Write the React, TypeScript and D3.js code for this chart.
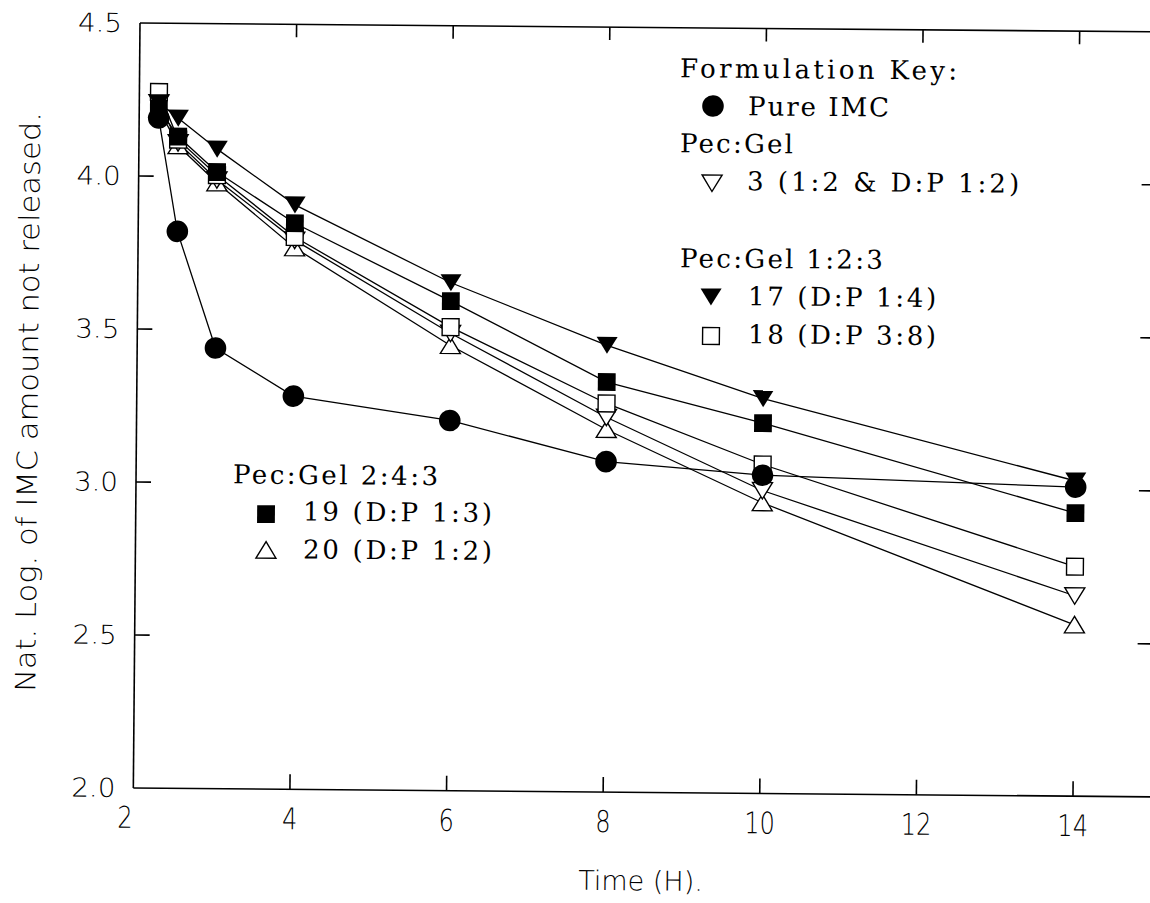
import React from "react";
import * as d3 from "d3";

// ---- data ----
const hours = [2.25, 2.5, 3, 4, 6, 8, 10, 14];
const pureIMC = [4.19, 3.82, 3.44, 3.285, 3.21, 3.08, 3.04, 3.01];
const f17 = [4.24, 4.19, 4.09, 3.91, 3.66, 3.46, 3.29, 3.03];
const f19 = [4.22, 4.13, 4.015, 3.85, 3.6, 3.34, 3.21, 2.925];
const f18 = [4.275, 4.12, 4.005, 3.805, 3.515, 3.27, 3.075, 2.75];
const f3 = [4.24, 4.11, 3.99, 3.795, 3.495, 3.225, 2.99, 2.655];
const f20 = [4.22, 4.1, 3.98, 3.77, 3.455, 3.185, 2.95, 2.56];

const xTicks = [2, 4, 6, 8, 10, 12, 14];
const yTicks = [2.0, 2.5, 3.0, 3.5, 4.0, 4.5];
const xTitle = "Time (H).";
const yTitle = "Nat. Log. of IMC amount not released.";

type Marker = "circle" | "square" | "squareOpen" | "triDown" | "triDownOpen" | "triUpOpen";

// drawing order: first drawn at bottom
const series: { name: string; values: number[]; marker: Marker }[] = [
  { name: "20", values: f20, marker: "triUpOpen" },
  { name: "3", values: f3, marker: "triDownOpen" },
  { name: "18", values: f18, marker: "squareOpen" },
  { name: "19", values: f19, marker: "square" },
  { name: "17", values: f17, marker: "triDown" },
  { name: "Pure IMC", values: pureIMC, marker: "circle" },
];

// ---- layout ----
const W = 1150;
const H = 903;
const L = 140;
const T = 23;
const B = 788;
const R = 1158;

const x = d3.scaleLinear().domain([2, 15]).range([L, R]);
const y = d3.scaleLinear().domain([2.0, 4.5]).range([B, T]);

const sansFont = "'DejaVu Sans', 'Open Sans', sans-serif";
const serifFont = "'DejaVu Serif', 'Liberation Serif', serif";

function markerEl(m: Marker, cx: number, cy: number, key?: string | number) {
  const sw = 1.4;
  switch (m) {
    case "circle":
      return <circle key={key} cx={cx} cy={cy} r={10.8} fill="#000" />;
    case "square":
      return <rect key={key} x={cx - 8.9} y={cy - 8.9} width={17.8} height={17.8} fill="#000" />;
    case "squareOpen":
      return (
        <rect key={key} x={cx - 8.4} y={cy - 8.4} width={16.8} height={16.8} fill="#fff" stroke="#000" strokeWidth={sw} />
      );
    case "triDown":
      return (
        <path key={key} d={`M${cx - 10.5},${cy - 8.5}L${cx + 10.5},${cy - 8.5}L${cx},${cy + 8.5}Z`} fill="#000" />
      );
    case "triDownOpen":
      return (
        <path
          key={key}
          d={`M${cx - 10},${cy - 8}L${cx + 10},${cy - 8}L${cx},${cy + 8.5}Z`}
          fill="#fff"
          stroke="#000"
          strokeWidth={sw}
          strokeLinejoin="miter"
        />
      );
    case "triUpOpen":
      return (
        <path
          key={key}
          d={`M${cx - 10},${cy + 8}L${cx + 10},${cy + 8}L${cx},${cy - 8.5}Z`}
          fill="#fff"
          stroke="#000"
          strokeWidth={sw}
          strokeLinejoin="miter"
        />
      );
  }
}

const line = d3
  .line<[number, number]>()
  .x((d) => x(d[0]))
  .y((d) => y(d[1]));

type LegendRow =
  | { kind: "head"; text: string; x: number; y: number; len: number }
  | { kind: "item"; text: string; x: number; y: number; len: number; marker: Marker; mx: number; my: number };

const legendRows: LegendRow[] = [
  { kind: "head", text: "Formulation Key:", x: 680.5, y: 72.5, len: 277 },
  { kind: "item", text: "Pure IMC", x: 748.8, y: 110, len: 141, marker: "circle", mx: 713.7, my: 101 },
  { kind: "head", text: "Pec:Gel", x: 681, y: 147.5, len: 113 },
  { kind: "item", text: "3 (1:2 & D:P 1:2)", x: 748.5, y: 185, len: 272, marker: "triDownOpen", mx: 713.4, my: 178 },
  { kind: "head", text: "Pec:Gel 1:2:3", x: 682, y: 262.5, len: 203 },
  { kind: "item", text: "17 (D:P 1:4)", x: 750.5, y: 300, len: 188, marker: "triDown", mx: 713.4, my: 292 },
  { kind: "item", text: "18 (D:P 3:8)", x: 750.8, y: 338, len: 188, marker: "squareOpen", mx: 713.7, my: 331 },
  { kind: "head", text: "Pec:Gel 2:4:3", x: 237, y: 482.5, len: 205 },
  { kind: "item", text: "19 (D:P 1:3)", x: 307.3, y: 519, len: 189, marker: "square", mx: 270.3, my: 513 },
  { kind: "item", text: "20 (D:P 1:2)", x: 307.7, y: 557, len: 189, marker: "triUpOpen", mx: 270.6, my: 549 },
];

export default function App() {
  const innerYTicks = yTicks.filter((t) => t > 2.0 && t < 4.5);
  const innerXTicks = xTicks.filter((t) => t > 2);
  const tick = 15;
  return (
    <svg
      width={W}
      height={H}
      viewBox={`0 0 ${W} ${H}`}
      style={{ position: "absolute", left: 0, top: 0, background: "#fff" }}
    >
      <rect x={0} y={0} width={W} height={H} fill="#fff" />
      <g transform={`rotate(0.5, ${L}, ${T})`}>
        {/* frame */}
        <g stroke="#000" strokeWidth={1.6} fill="none">
          <line x1={L} y1={T} x2={R} y2={T} />
          <line x1={L} y1={B} x2={R} y2={B} />
          <line x1={L} y1={T} x2={L} y2={B} />
          <line x1={R} y1={T} x2={R} y2={B} />
          {innerYTicks.map((t) => (
            <g key={"yt" + t}>
              <line x1={L} y1={y(t)} x2={L + tick} y2={y(t)} />
              <line x1={R} y1={y(t)} x2={R - tick} y2={y(t)} />
            </g>
          ))}
          {innerXTicks.map((t) => (
            <g key={"xt" + t}>
              <line x1={x(t)} y1={B} x2={x(t)} y2={B - tick} />
              <line x1={x(t)} y1={T} x2={x(t)} y2={T + 13} />
            </g>
          ))}
        </g>

        {/* y tick labels */}
        {yTicks.map((t) => (
          <text
            key={"yl" + t}
            x={122}
            y={y(t)}
            textAnchor="end"
            dominantBaseline="central"
            fontFamily={sansFont}
            fontWeight={300}
            fontSize={26}
            textLength={44}
            lengthAdjust="spacingAndGlyphs"
            fill="#000"
          >
            {t.toFixed(1)}
          </text>
        ))}

        {/* x tick labels */}
        {xTicks.map((t) => (
          <text
            key={"xl" + t}
            transform={`translate(${x(t) - (t === 2 ? 8 : 0)}, ${B + 40}) scale(0.8, 1)`}
            textAnchor="middle"
            fontFamily={sansFont}
            fontWeight={300}
            fontSize={30}
            fill="#000"
          >
            {t}
          </text>
        ))}

        {/* axis titles */}
        <text
          x={648}
          y={886}
          textAnchor="middle"
          fontFamily={sansFont}
          fontWeight={300}
          fontSize={27}
          fill="#000"
        >
          {xTitle}
        </text>
        <text
          transform={`translate(41, 403) rotate(-90)`}
          textAnchor="middle"
          fontFamily={sansFont}
          fontWeight={300}
          fontSize={28}
          textLength={580}
          lengthAdjust="spacingAndGlyphs"
          fill="#000"
        >
          {yTitle}
        </text>

        {/* series lines */}
        {series.map((s) => (
          <path
            key={"l" + s.name}
            d={line(hours.map((h, i) => [h, s.values[i]] as [number, number])) || ""}
            fill="none"
            stroke="#000"
            strokeWidth={1.3}
          />
        ))}

        {/* markers */}
        {series.map((s) => (
          <g key={"m" + s.name}>{hours.map((h, i) => markerEl(s.marker, x(h), y(s.values[i]), i))}</g>
        ))}

        {/* legends */}
        {legendRows.map((r, i) => (
          <g key={"lg" + i}>
            {r.kind === "item" ? markerEl(r.marker, r.mx, r.my) : null}
            <text
              x={r.x}
              y={r.y}
              fontFamily={serifFont}
              fontSize={26}
              textLength={r.len}
              lengthAdjust="spacing"
              fill="#000"
            >
              {r.text}
            </text>
          </g>
        ))}
      </g>
    </svg>
  );
}
